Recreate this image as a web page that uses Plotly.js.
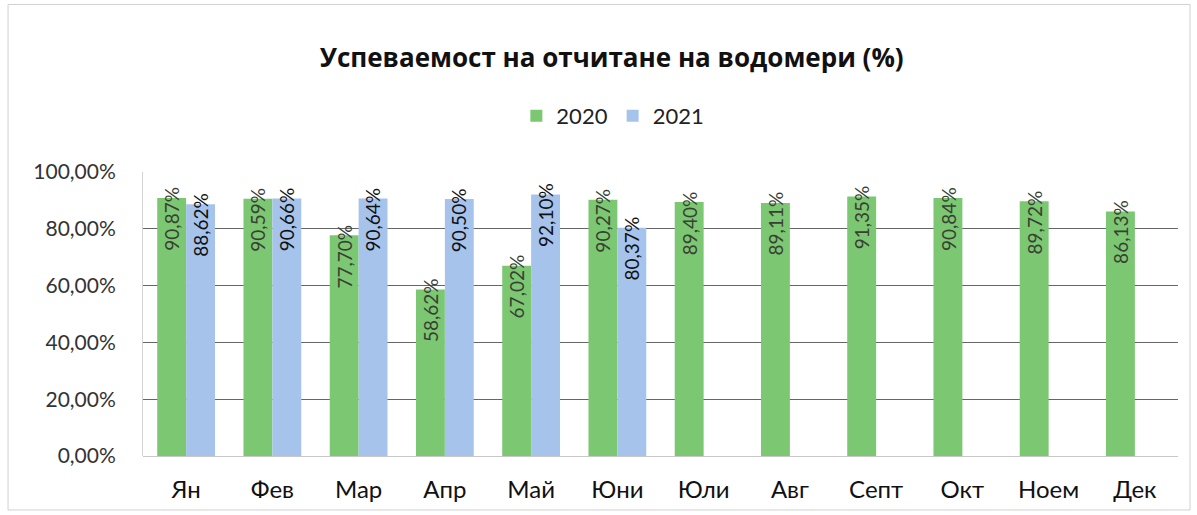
<!DOCTYPE html>
<html>
<head>
<meta charset="utf-8">
<script src="https://cdn.plot.ly/plotly-3.0.1.min.js"></script>
<style>html,body{margin:0;padding:0;background:#fff;}#chart{width:1197px;height:515px;}</style>
</head>
<body>
<div id="chart"></div>
<script>
const months = ["Ян","Фев","Мар","Апр","Май","Юни","Юли","Авг","Септ","Окт","Ноем","Дек"];
const values2020 = [90.87, 90.59, 77.70, 58.62, 67.02, 90.27, 89.40, 89.11, 91.35, 90.84, 89.72, 86.13];
const values2021 = [88.62, 90.66, 90.64, 90.50, 92.10, 80.37];
const seriesNames = ["2020", "2021"];
const yTicks = [0, 20, 40, 60, 80, 100];
const yTickLabels = ["0,00%", "20,00%", "40,00%", "60,00%", "80,00%", "100,00%"];

const green = "#7cc772";
const blue = "#a6c3eb";
const fontFam = "Lato, 'Open Sans', sans-serif";

const fmt = v => v.toFixed(2).replace('.', ',') + '%';

const traces = [
  {type: 'bar', name: seriesNames[0], x: months, y: values2020,
   marker: {color: green}, hoverinfo: 'skip'},
  {type: 'bar', name: seriesNames[1], x: months.slice(0, values2021.length), y: values2021,
   marker: {color: blue}, hoverinfo: 'skip'}
];

const annotations = [];
values2020.forEach((v, i) => annotations.push({
  x: i - 0.1667, y: v, xref: 'x', yref: 'y', text: fmt(v), textangle: -90,
  showarrow: false, yanchor: 'top', xanchor: 'center', yshift: 13,
  font: {family: fontFam, size: 19, color: '#3a3f35'}
}));
values2021.forEach((v, i) => annotations.push({
  x: i + 0.1667, y: v, xref: 'x', yref: 'y', text: fmt(v), textangle: -90,
  showarrow: false, yanchor: 'top', xanchor: 'center', yshift: 13,
  font: {family: fontFam, size: 19, color: '#111'}
}));

const layout = {
  width: 1197, height: 515,
  margin: {l: 143, r: 19, t: 172, b: 59},
  paper_bgcolor: '#fff', plot_bgcolor: '#fff',
  barmode: 'group', bargap: 0.33, bargroupgap: 0,
  title: {text: '<b>Успеваемост на отчитане на водомери (%)</b>',
          font: {family: "'Open Sans', Lato, sans-serif", size: 26, color: '#111'},
          x: 0.511, xref: 'container', xanchor: 'center',
          y: 0.888, yref: 'container', yanchor: 'middle'},
  legend: {orientation: 'h', xref: 'container', yref: 'container',
           x: 0.512, xanchor: 'center', y: 0.775, yanchor: 'middle',
           font: {family: fontFam, size: 22, color: '#222'},
           itemwidth: 30, traceorder: 'normal'},
  xaxis: {type: 'category', range: [-0.5, 11.5],
          tickfont: {family: fontFam, size: 24, color: '#111'},
          ticklabelstandoff: 17, showgrid: false, showline: false, zeroline: false},
  yaxis: {range: [0, 100], tickvals: yTicks, ticktext: yTickLabels,
          tickfont: {family: fontFam, size: 21, color: '#333'},
          ticklabelstandoff: 22, gridcolor: '#666', gridwidth: 1,
          zeroline: true, zerolinecolor: '#c8c8c8', zerolinewidth: 1,
          showline: true, linecolor: '#d4d4d4', linewidth: 1},
  annotations: annotations,
  shapes: [{type: 'rect', xref: 'paper', yref: 'paper',
            x0: -0.1304, x1: 1.0116, y0: -0.19, y1: 1.59,
            line: {color: '#d0d0d0', width: 1}, fillcolor: 'rgba(0,0,0,0)'}],
  showlegend: true
};

Plotly.newPlot('chart', traces, layout, {displayModeBar: false, staticPlot: true});
</script>
</body>
</html>
